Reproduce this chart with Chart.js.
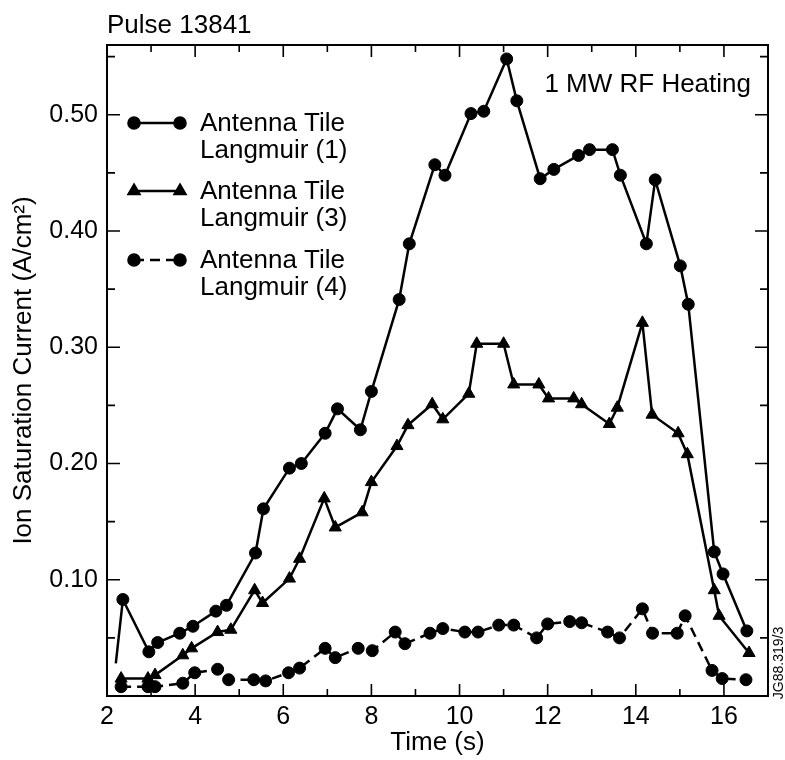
<!DOCTYPE html>
<html lang="en">
<head>
    <meta charset="UTF-8">
    <title>Pulse 13841 - Ion Saturation Current</title>
    <script src="https://cdn.jsdelivr.net/npm/chart.js"></script>
    <style>
        body {
            margin: 0;
            background: #fff;
        }
        canvas {
            display: block;
        }
    </style>
</head>
<body>

<canvas id="pulseChart" width="785" height="760"></canvas>

<script>
    // Antenna Tile Langmuir (1) - solid line, circles
    const time1 = [2.2, 2.36, 2.95, 3.15, 3.65, 3.95, 4.47, 4.71, 5.37, 5.55, 6.14, 6.41, 6.95, 7.23, 7.75, 8.0, 8.63, 8.86, 9.44, 9.67, 10.26, 10.55, 11.07, 11.3, 11.83, 12.14, 12.7, 12.95, 13.47, 13.65, 14.24, 14.44, 15.01, 15.19, 15.78, 15.98, 16.52];
    const current1 = [0.028, 0.083, 0.038, 0.046, 0.054, 0.060, 0.073, 0.078, 0.123, 0.161, 0.196, 0.200, 0.226, 0.247, 0.229, 0.262, 0.341, 0.389, 0.457, 0.448, 0.501, 0.503, 0.548, 0.512, 0.445, 0.453, 0.465, 0.470, 0.470, 0.448, 0.389, 0.444, 0.370, 0.337, 0.124, 0.105, 0.056];

    // Antenna Tile Langmuir (3) - solid line, triangles
    const time3 = [2.32, 2.93, 3.09, 3.72, 3.92, 4.51, 4.81, 5.35, 5.53, 6.14, 6.37, 6.93, 7.18, 7.79, 8.0, 8.58, 8.83, 9.38, 9.62, 10.21, 10.39, 11.0, 11.23, 11.8, 12.02, 12.59, 12.77, 13.4, 13.58, 14.15, 14.37, 14.96, 15.17, 15.78, 15.89, 16.57];
    const current3 = [0.015, 0.015, 0.018, 0.035, 0.041, 0.055, 0.057, 0.091, 0.080, 0.101, 0.118, 0.170, 0.145, 0.158, 0.184, 0.215, 0.233, 0.251, 0.238, 0.260, 0.303, 0.303, 0.268, 0.268, 0.256, 0.256, 0.251, 0.234, 0.248, 0.321, 0.242, 0.226, 0.208, 0.091, 0.069, 0.037];

    // Antenna Tile Langmuir (4) - dashed line, circles
    const time4 = [2.32, 2.93, 3.09, 3.72, 3.99, 4.51, 4.76, 5.33, 5.6, 6.12, 6.37, 6.95, 7.18, 7.7, 8.02, 8.54, 8.76, 9.33, 9.62, 10.12, 10.42, 10.89, 11.23, 11.75, 12.0, 12.5, 12.77, 13.36, 13.63, 14.15, 14.38, 14.94, 15.12, 15.73, 15.96, 16.5];
    const current4 = [0.008, 0.008, 0.008, 0.011, 0.020, 0.023, 0.014, 0.014, 0.013, 0.020, 0.024, 0.041, 0.033, 0.041, 0.039, 0.055, 0.045, 0.054, 0.058, 0.055, 0.055, 0.061, 0.061, 0.050, 0.062, 0.064, 0.063, 0.055, 0.050, 0.075, 0.054, 0.054, 0.069, 0.022, 0.015, 0.014];

    const seriesNames = ['Antenna Tile|Langmuir (1)', 'Antenna Tile|Langmuir (3)', 'Antenna Tile|Langmuir (4)'];

    const FONT = '"Liberation Sans", Arial, Helvetica, sans-serif';

    const toPoints = (xs, ys) => xs.map((x, i) => ({ x: x, y: ys[i] }));

    // frame with inward tick marks, plus the free text and the in-plot legend
    const framePlugin = {
        id: 'frame',
        afterDraw(chart) {
            const ctx = chart.ctx;
            const a = chart.chartArea;
            const xs = chart.scales.x;
            const ys = chart.scales.y;
            ctx.save();
            ctx.strokeStyle = '#000';
            ctx.lineWidth = 2;
            ctx.strokeRect(a.left, a.top, a.right - a.left, a.bottom - a.top);

            ctx.lineWidth = 1.6;
            ctx.beginPath();
            for (let t = 2; t <= 17; t++) {
                const px = xs.getPixelForValue(t);
                const len = t % 2 === 0 ? 12 : 7;
                ctx.moveTo(px, a.bottom); ctx.lineTo(px, a.bottom - len);
                ctx.moveTo(px, a.top); ctx.lineTo(px, a.top + len);
            }
            for (let k = 1; k <= 11; k++) {
                const py = ys.getPixelForValue(k * 0.05);
                const len = k % 2 === 0 ? 13 : 8;
                ctx.moveTo(a.left, py); ctx.lineTo(a.left + len, py);
                ctx.moveTo(a.right, py); ctx.lineTo(a.right - len, py);
            }
            ctx.stroke();

            // texts
            ctx.fillStyle = '#000';
            ctx.font = '26px ' + FONT;
            ctx.textAlign = 'left';
            ctx.textBaseline = 'alphabetic';
            ctx.fillText('Pulse 13841', 107, 33);
            ctx.textAlign = 'right';
            ctx.fillText('1 MW RF Heating', 751, 92);

            ctx.save();
            ctx.font = '14px ' + FONT;
            ctx.textAlign = 'center';
            ctx.textBaseline = 'middle';
            ctx.translate(779, 663);
            ctx.rotate(-Math.PI / 2);
            ctx.fillText('JG88.319/3', 0, 0);
            ctx.restore();

            // legend
            const rows = [123, 191, 260];
            chart.data.datasets.forEach((ds, i) => {
                const y = rows[i];
                ctx.save();
                ctx.strokeStyle = '#000';
                ctx.lineWidth = 2.5;
                ctx.setLineDash(ds.borderDash || []);
                ctx.beginPath();
                ctx.moveTo(134, y);
                ctx.lineTo(180, y);
                ctx.stroke();
                ctx.restore();
                const opts = { pointStyle: ds.pointStyle, radius: ds.pointStyle === 'triangle' ? 7 : 6, rotation: 0, borderWidth: 1 };
                ctx.fillStyle = '#000';
                ctx.strokeStyle = '#000';
                Chart.helpers.drawPoint(ctx, opts, 134, y);
                Chart.helpers.drawPoint(ctx, opts, 180, y);
                const lines = seriesNames[i].split('|');
                ctx.font = '26px ' + FONT;
                ctx.textAlign = 'left';
                ctx.textBaseline = 'alphabetic';
                ctx.fillText(lines[0], 200, y + 8);
                ctx.fillText(lines[1], 200, y + 35);
            });
            ctx.restore();
        }
    };

    const ctx = document.getElementById('pulseChart').getContext('2d');
    new Chart(ctx, {
        type: 'scatter',
        data: {
            datasets: [
                {
                    label: seriesNames[0],
                    data: toPoints(time1, current1),
                    showLine: true,
                    borderColor: '#000',
                    backgroundColor: '#000',
                    borderWidth: 2.5,
                    pointStyle: 'circle',
                    pointRadius: c => c.dataIndex === 0 ? 0 : 6,
                    pointBorderWidth: 1
                },
                {
                    label: seriesNames[1],
                    data: toPoints(time3, current3),
                    showLine: true,
                    borderColor: '#000',
                    backgroundColor: '#000',
                    borderWidth: 2.5,
                    pointStyle: 'triangle',
                    pointRadius: 7,
                    pointBorderWidth: 1
                },
                {
                    label: seriesNames[2],
                    data: toPoints(time4, current4),
                    showLine: true,
                    borderColor: '#000',
                    backgroundColor: '#000',
                    borderWidth: 2.5,
                    borderDash: [10, 6],
                    pointStyle: 'circle',
                    pointRadius: 6,
                    pointBorderWidth: 1
                }
            ]
        },
        options: {
            responsive: false,
            animation: false,
            devicePixelRatio: 1,
            layout: { padding: { top: 45, right: 17, left: 0, bottom: 0 } },
            plugins: {
                legend: { display: false },
                tooltip: { enabled: false }
            },
            scales: {
                x: {
                    type: 'linear',
                    min: 2,
                    max: 17,
                    grid: { display: false, drawTicks: false },
                    border: { display: false },
                    ticks: {
                        stepSize: 1,
                        autoSkip: false,
                        maxRotation: 0,
                        padding: 6,
                        color: '#000',
                        font: { size: 25, family: FONT },
                        callback: v => (v % 2 === 0 && v < 17) ? String(v) : ''
                    },
                    title: {
                        display: true,
                        text: 'Time (s)',
                        color: '#000',
                        font: { size: 26, family: FONT },
                        padding: { top: 0, bottom: 2 }
                    },
                    afterFit: s => { s.height = 64; }
                },
                y: {
                    min: 0,
                    max: 0.56,
                    grid: { display: false, drawTicks: false },
                    border: { display: false },
                    ticks: {
                        stepSize: 0.05,
                        autoSkip: false,
                        padding: 9,
                        color: '#000',
                        font: { size: 25, family: FONT },
                        callback: v => {
                            const k = Math.round(v * 100);
                            return (k > 0 && k % 10 === 0) ? (k / 100).toFixed(2) : '';
                        }
                    },
                    title: {
                        display: true,
                        text: 'Ion Saturation Current (A/cm²)',
                        color: '#000',
                        font: { size: 26, family: FONT },
                        padding: { top: 8, bottom: 0 }
                    },
                    afterFit: s => { s.width = 107; }
                }
            }
        },
        plugins: [framePlugin]
    });
</script>

</body>
</html>
